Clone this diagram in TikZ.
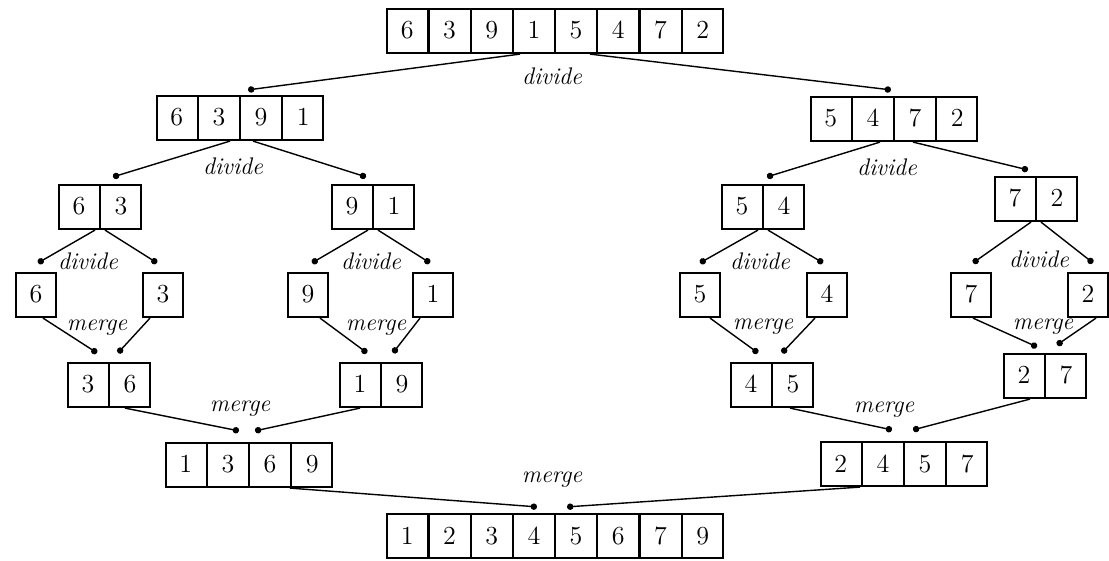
\documentclass[tikz,border=0pt]{standalone}
\usepackage{fontspec}
\usetikzlibrary{arrows.meta,shapes.multipart,calc}

\newcommand\cel[1]{\makebox[20pt]{\rule[-7pt]{0pt}{22pt}#1}}

\begin{document}
\begin{tikzpicture}[x=0.5pt,y=-0.5pt]
  \tikzset{
    arr/.style={rectangle split, rectangle split horizontal,
      rectangle split parts=#1, draw, line width=1.1pt, inner sep=0pt,
      font=\fontsize{13}{15}\selectfont},
    sgl/.style={draw, line width=1.1pt, inner sep=0pt,
      font=\fontsize{13}{15}\selectfont},
    lbl/.style={font=\fontsize{12}{14}\selectfont\itshape},
    link/.style={-{Circle[length=3.2pt]}, line width=0.7pt}
  }
  \useasboundingbox (0,0) rectangle (1109,561);

  % divide
  \node[arr=8] (top) at (555,31) {\cel6\nodepart{two}\cel3\nodepart{three}\cel9\nodepart{four}\cel1\nodepart{five}\cel5\nodepart{six}\cel4\nodepart{seven}\cel7\nodepart{eight}\cel2};
  \node[arr=4] (L) at (240,118) {\cel6\nodepart{two}\cel3\nodepart{three}\cel9\nodepart{four}\cel1};
  \node[arr=4] (R) at (894,119) {\cel5\nodepart{two}\cel4\nodepart{three}\cel7\nodepart{four}\cel2};
  \node[arr=2] (LL) at (100,207) {\cel6\nodepart{two}\cel3};
  \node[arr=2] (LR) at (373,207) {\cel9\nodepart{two}\cel1};
  \node[arr=2] (RL) at (763,207) {\cel5\nodepart{two}\cel4};
  \node[arr=2] (RR) at (1036,199) {\cel7\nodepart{two}\cel2};
  \node[sgl] (a) at (36,295) {\cel6};
  \node[sgl] (b) at (163,295) {\cel3};
  \node[sgl] (c) at (308,295) {\cel9};
  \node[sgl] (d) at (433,295) {\cel1};
  \node[sgl] (e) at (700,295) {\cel5};
  \node[sgl] (f) at (827,295) {\cel4};
  \node[sgl] (g) at (971,295) {\cel7};
  \node[sgl] (h) at (1088,295) {\cel2};

  % merge
  \node[arr=2] (mLL) at (109,385) {\cel3\nodepart{two}\cel6};
  \node[arr=2] (mLR) at (381,385) {\cel1\nodepart{two}\cel9};
  \node[arr=2] (mRL) at (772,385) {\cel4\nodepart{two}\cel5};
  \node[arr=2] (mRR) at (1045,376) {\cel2\nodepart{two}\cel7};
  \node[arr=4] (mL) at (249,465) {\cel1\nodepart{two}\cel3\nodepart{three}\cel6\nodepart{four}\cel9};
  \node[arr=4] (mR) at (904,464) {\cel2\nodepart{two}\cel4\nodepart{three}\cel5\nodepart{four}\cel7};
  \node[arr=8] (bot) at (555,536) {\cel1\nodepart{two}\cel2\nodepart{three}\cel3\nodepart{four}\cel4\nodepart{five}\cel5\nodepart{six}\cel6\nodepart{seven}\cel7\nodepart{eight}\cel9};

  % labels
  \node[lbl] (d0) at (552,76) {divide};
  \node[lbl] (d1) at (233,166) {divide};
  \node[lbl] (d2) at (887,167) {divide};
  \node[lbl] (d3) at (88,261) {divide};
  \node[lbl] (d4) at (371,261) {divide};
  \node[lbl] (d5) at (760,261) {divide};
  \node[lbl] (d6) at (1039,259) {divide};
  \node[lbl] (m1) at (97,328) {merge};
  \node[lbl] (m2) at (376,328) {merge};
  \node[lbl] (m3) at (763,327) {merge};
  \node[lbl] (m4) at (1043,327) {merge};
  \node[lbl] (m5) at (240,409) {merge};
  \node[lbl] (m6) at (884,410) {merge};
  \node[lbl] (m7) at (552,480) {merge};

  \path[link]
  ($(top.south)+(-35,0)$) edge ($(L.north)+(8,-5)$)
  ($(top.south)+(35,0)$)  edge ($(R.north)+(-3,-6)$)
  ($(L.south)+(-10,0)$)   edge ($(LL.north)+(13,-7)$)
  ($(L.south)+(13,0)$)    edge ($(LR.north)+(-7,-7)$)
  ($(R.south)+(-14,0)$)   edge ($(RL.north)+(4,-7)$)
  ($(R.south)+(19,0)$)    edge ($(RR.north)+(-8,-6)$)
  ($(LL.south)+(-5,0)$)   edge ($(a.north)+(2,-9)$)
  ($(LL.south)+(5,0)$)    edge ($(b.north)+(-6,-9)$)
  ($(LR.south)+(-5,0)$)   edge ($(c.north)+(4,-9)$)
  ($(LR.south)+(5,0)$)    edge ($(d.north)+(-3,-9)$)
  ($(RL.south)+(-5,0)$)   edge ($(e.north)+(0,-9)$)
  ($(RL.south)+(5,0)$)    edge ($(f.north)+(-4,-9)$)
  ($(RR.south)+(-5,0)$)   edge ($(g.north)+(2,-9)$)
  ($(RR.south)+(5,0)$)    edge ($(h.north)+(5,-9)$);
  \path[link]
  ($(a.south)+(7,0)$)     edge ($(mLL.north)+(-12,-9)$)
  ($(b.south)+(-13,0)$)   edge ($(mLL.north)+(9,-9)$)
  ($(c.south)+(12,0)$)    edge ($(mLR.north)+(-14,-9)$)
  ($(d.south)+(-13,0)$)   edge ($(mLR.north)+(12,-9)$)
  ($(e.south)+(10,0)$)    edge ($(mRL.north)+(-14,-9)$)
  ($(f.south)+(-12,0)$)   edge ($(mRL.north)+(10,-9)$)
  ($(g.south)+(2,0)$)     edge ($(mRR.north)+(-8,-6)$)
  ($(h.south)+(8,0)$)     edge ($(mRR.north)+(12,-8)$)
  ($(mLL.south)+(16,0)$)  edge ($(mL.north)+(-10,-11)$)
  ($(mLR.south)+(-21,0)$) edge ($(mL.north)+(6,-11)$)
  ($(mRL.south)+(18,0)$)  edge ($(mR.north)+(-12,-11)$)
  ($(mRR.south)+(-15,0)$) edge ($(mR.north)+(9,-11)$)
  ($(mL.south)+(41,0)$)   edge ($(bot.north)+(-18,-6)$)
  ($(mR.south)+(-44,0)$)  edge ($(bot.north)+(12,-6)$);
\end{tikzpicture}
\end{document}
